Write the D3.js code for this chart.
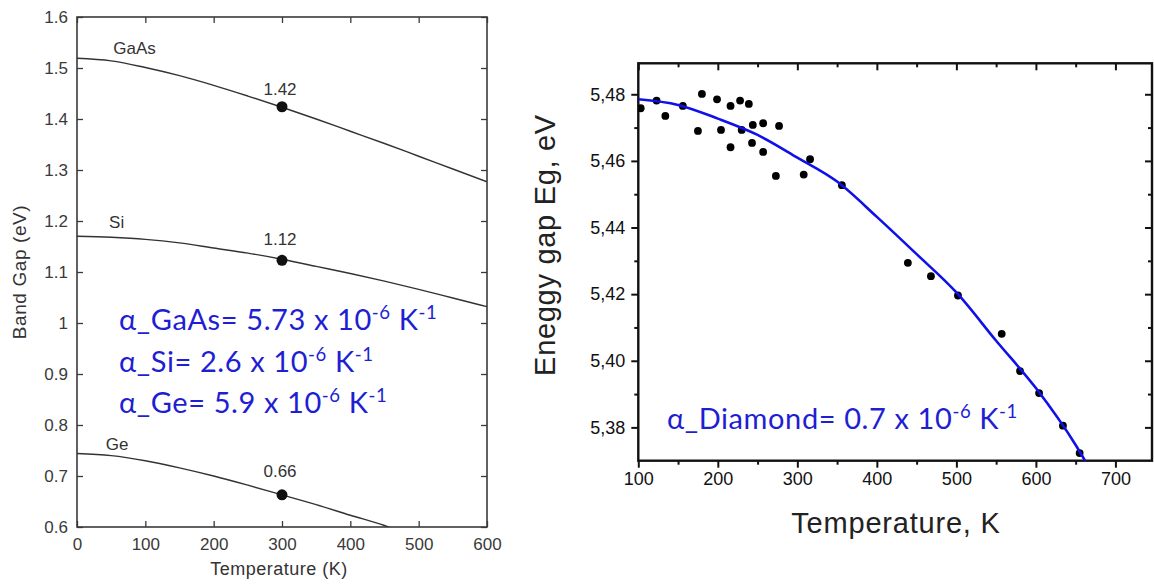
<!DOCTYPE html>
<html><head><meta charset="utf-8">
<script src="https://cdn.jsdelivr.net/npm/d3@7"></script>
<style>body{margin:0;background:#fff}svg{display:block}</style>
</head><body>
<svg id="c" width="1154" height="585"></svg>
<script>
// ---------- Left chart data (Band gap vs temperature) ----------
const curveT = [0,50,100,150,200,250,300,350,400,450,500,550,600];
const gaasEg = [1.519,1.514,1.501,1.485,1.466,1.445,1.423,1.400,1.376,1.352,1.327,1.302,1.277];
const siEg   = [1.170,1.168,1.164,1.157,1.147,1.137,1.125,1.111,1.097,1.082,1.066,1.049,1.032];
const geT    = [0,50,100,150,200,250,300,350,400,450,460];
const geEg   = [0.744,0.740,0.730,0.716,0.700,0.682,0.663,0.644,0.623,0.603,0.598];
const materials = ["GaAs","Si","Ge"];
const matLabelT = [53,47,42];
const matLabelE = [1.528,1.186,0.751];
const dotT = [300,300,300];
const dotEg = [1.424,1.123,0.663];
const dotLabels = ["1.42","1.12","0.66"];
const dotLabelE = [1.447,1.153,0.698];
const leftXTicks = [0,100,200,300,400,500,600];
const leftYTicks = [0.6,0.7,0.8,0.9,1.0,1.1,1.2,1.3,1.4,1.5,1.6];
const alphaNames = ["GaAs","Si","Ge"];
const alphaValues = ["5.73","2.6","5.9"];

// ---------- Right chart data (Diamond) ----------
const diaT = [103,123,134,156,180,175,199,204,216,216,228,239,230,244,257,243,257,277,273,308,316,356,439,468,502,557,580,604,634,655];
const diaEg = [5.4758,5.4781,5.4735,5.4765,5.4801,5.4690,5.4785,5.4693,5.4765,5.4641,5.4781,5.4771,5.4693,5.4708,5.4713,5.4654,5.4627,5.4705,5.4555,5.4559,5.4605,5.4527,5.4294,5.4254,5.4196,5.4081,5.3969,5.3903,5.3805,5.3723];
const fitT = [100,150,200,250,300,350,400,450,500,550,600,650,665];
const fitEg = [5.4785,5.4768,5.4727,5.4678,5.4610,5.4538,5.4432,5.4320,5.4205,5.4060,5.3918,5.3747,5.3687];
const rightXTicks = [100,200,300,400,500,600,700];
const rightXMinor = [150,250,350,450,550,650];
const rightYTicks = [5.38,5.40,5.42,5.44,5.46,5.48];
const rightYMinor = [5.39,5.41,5.43,5.45,5.47];

const svg = d3.select("#c");
const BLUE_TXT = "#1e1ed2";

// ================= LEFT CHART =================
const L = {x0:77, x1:487, y0:17, y1:527};
const lx = d3.scaleLinear().domain([0,600]).range([L.x0,L.x1]);
const ly = d3.scaleLinear().domain([0.6,1.6]).range([L.y1,L.y0]);
const gL = svg.append("g");
const axisCol = "#3a3a3a";
const lfont = "Arial, 'Liberation Sans', Helvetica, sans-serif";

svg.append("clipPath").attr("id","clipL").append("rect")
  .attr("x",L.x0).attr("y",L.y0).attr("width",L.x1-L.x0).attr("height",L.y1-L.y0);

function styleAxis(g, col, sw, fs, ff){
  g.select(".domain").remove();
  g.selectAll(".tick line").attr("stroke",col).attr("stroke-width",sw);
  g.selectAll(".tick text").attr("fill",col).style("font-size",fs+"px").style("font-family",ff);
}
const fmtL = d => String(+d.toFixed(1));
gL.append("g").attr("transform",`translate(0,${L.y1})`)
  .call(d3.axisBottom(lx).tickValues(leftXTicks).tickSize(-6).tickPadding(11).tickFormat(d=>d))
  .call(g=>styleAxis(g,axisCol,1.3,17,lfont));
gL.append("g").attr("transform",`translate(0,${L.y0})`)
  .call(d3.axisTop(lx).tickValues(leftXTicks).tickSize(-6).tickFormat(""))
  .call(g=>styleAxis(g,axisCol,1.3,17,lfont));
gL.append("g").attr("transform",`translate(${L.x0},0)`)
  .call(d3.axisLeft(ly).tickValues(leftYTicks).tickSize(-6).tickPadding(9).tickFormat(fmtL))
  .call(g=>styleAxis(g,axisCol,1.3,17,lfont));
gL.append("g").attr("transform",`translate(${L.x1},0)`)
  .call(d3.axisRight(ly).tickValues(leftYTicks).tickSize(-6).tickFormat(""))
  .call(g=>styleAxis(g,axisCol,1.3,17,lfont));
gL.append("rect").attr("x",L.x0).attr("y",L.y0).attr("width",L.x1-L.x0).attr("height",L.y1-L.y0)
  .attr("fill","none").attr("stroke",axisCol).attr("stroke-width",1.6);

const lineL = d3.line().x(d=>lx(d[0])).y(d=>ly(d[1])).curve(d3.curveMonotoneX);
const series = [d3.zip(curveT,gaasEg), d3.zip(curveT,siEg), d3.zip(geT,geEg)];
gL.append("g").attr("clip-path","url(#clipL)").selectAll("path").data(series).join("path")
  .attr("d",lineL).attr("fill","none").attr("stroke","#333").attr("stroke-width",1.4);

gL.selectAll("circle.dot").data(d3.range(3)).join("circle").attr("class","dot")
  .attr("cx",i=>lx(dotT[i])).attr("cy",i=>ly(dotEg[i])).attr("r",5.5).attr("fill","#111");
gL.selectAll("text.dl").data(d3.range(3)).join("text").attr("class","dl")
  .attr("x",i=>lx(dotT[i])-2).attr("y",i=>ly(dotLabelE[i])).attr("text-anchor","middle")
  .style("font-family",lfont).style("font-size","17px").attr("fill","#333").text(i=>dotLabels[i]);
gL.selectAll("text.ml").data(d3.range(3)).join("text").attr("class","ml")
  .attr("x",i=>lx(matLabelT[i])).attr("y",i=>ly(matLabelE[i]))
  .style("font-family",lfont).style("font-size","17px").attr("fill","#333").text(i=>materials[i]);

gL.append("text").attr("x",(L.x0+L.x1)/2-3).attr("y",575).attr("text-anchor","middle")
  .style("font-family",lfont).style("font-size","18px").style("letter-spacing","0.5px")
  .attr("fill","#333").text("Temperature (K)");
gL.append("text").attr("transform",`translate(26,${(L.y0+L.y1)/2}) rotate(-90)`).attr("text-anchor","middle")
  .style("font-family",lfont).style("font-size","19px").style("letter-spacing","0.6px")
  .attr("fill","#333").text("Band Gap (eV)");

// Blue annotation helper
function alphaText(g, x, y, name, val, fs){
  const t = g.append("text").attr("x",x).attr("y",y).attr("fill",BLUE_TXT)
    .style("font-family","Lato, 'Open Sans', sans-serif").style("font-size",fs+"px")
    .style("letter-spacing","0.6px");
  t.append("tspan").text(`α_${name}= ${val} x 10`);
  t.append("tspan").attr("dy",-11).style("font-size",(fs*0.64)+"px").text("-6");
  t.append("tspan").attr("dy",11).text(" K");
  t.append("tspan").attr("dy",-11).style("font-size",(fs*0.64)+"px").text("-1");
  return t;
}
const alphaBase = [329.5, 371.5, 412.5];
alphaNames.forEach((n,i)=>alphaText(gL,119,alphaBase[i],n,alphaValues[i],29));

// ================= RIGHT CHART =================
const R = {x0:638.3, x1:1152, y0:63.3, y1:460.7};
const rx = d3.scaleLinear().domain([100,746]).range([R.x0,R.x1]);
const ry = d3.scaleLinear().domain([5.37,5.4893]).range([R.y1,R.y0]);
const gR = svg.append("g");
const rcol = "#111";
svg.append("clipPath").attr("id","clipR").append("rect")
  .attr("x",R.x0).attr("y",R.y0).attr("width",R.x1-R.x0).attr("height",R.y1-R.y0);

const fmtR = d => d3.format(".2f")(d).replace(".",",");
gR.append("g").attr("transform",`translate(0,${R.y1})`)
  .call(d3.axisBottom(rx).tickValues(rightXTicks).tickSize(7).tickPadding(5).tickFormat(d=>d))
  .call(g=>styleAxis(g,rcol,2,18,lfont));
gR.append("g").attr("transform",`translate(0,${R.y1})`)
  .call(d3.axisBottom(rx).tickValues(rightXMinor).tickSize(4).tickFormat(""))
  .call(g=>styleAxis(g,rcol,2,18,lfont));
gR.append("g").attr("transform",`translate(0,${R.y0})`)
  .call(d3.axisTop(rx).tickValues(rightXTicks).tickSize(-7).tickFormat(""))
  .call(g=>styleAxis(g,rcol,2,18,lfont));
gR.append("g").attr("transform",`translate(0,${R.y0})`)
  .call(d3.axisTop(rx).tickValues(rightXMinor).tickSize(-4).tickFormat(""))
  .call(g=>styleAxis(g,rcol,2,18,lfont));
gR.append("g").attr("transform",`translate(${R.x0},0)`)
  .call(d3.axisLeft(ry).tickValues(rightYTicks).tickSize(7).tickPadding(6).tickFormat(fmtR))
  .call(g=>styleAxis(g,rcol,2,18,lfont));
gR.append("g").attr("transform",`translate(${R.x0},0)`)
  .call(d3.axisLeft(ry).tickValues(rightYMinor).tickSize(4).tickFormat(""))
  .call(g=>styleAxis(g,rcol,2,18,lfont));
gR.append("g").attr("transform",`translate(${R.x1},0)`)
  .call(d3.axisRight(ry).tickValues(rightYTicks).tickSize(-7).tickFormat(""))
  .call(g=>styleAxis(g,rcol,2,18,lfont));
gR.append("g").attr("transform",`translate(${R.x1},0)`)
  .call(d3.axisRight(ry).tickValues(rightYMinor).tickSize(-4).tickFormat(""))
  .call(g=>styleAxis(g,rcol,2,18,lfont));
gR.append("rect").attr("x",R.x0).attr("y",R.y0).attr("width",R.x1-R.x0).attr("height",R.y1-R.y0)
  .attr("fill","none").attr("stroke",rcol).attr("stroke-width",2.4);

const gRc = gR.append("g").attr("clip-path","url(#clipR)");
gRc.selectAll("circle").data(d3.zip(diaT,diaEg)).join("circle")
  .attr("cx",d=>rx(d[0])).attr("cy",d=>ry(d[1])).attr("r",3.9).attr("fill","#000");
const lineR = d3.line().x(d=>rx(d[0])).y(d=>ry(d[1])).curve(d3.curveMonotoneX);
gRc.append("path").datum(d3.zip(fitT,fitEg)).attr("d",lineR)
  .attr("fill","none").attr("stroke","#1010e8").attr("stroke-width",2.6);

gR.append("text").attr("x",896).attr("y",533).attr("text-anchor","middle")
  .style("font-family",lfont).style("font-size","29px").style("letter-spacing","0.8px")
  .attr("fill","#222").text("Temperature, K");
gR.append("text").attr("transform",`translate(555,245) rotate(-90)`).attr("text-anchor","middle")
  .style("font-family",lfont).style("font-size","29px").style("letter-spacing","0.7px")
  .attr("fill","#222").text("Eneggy gap Eg, eV");

alphaText(gR,667,429.3,"Diamond","0.7",29);
</script>
</body></html>
